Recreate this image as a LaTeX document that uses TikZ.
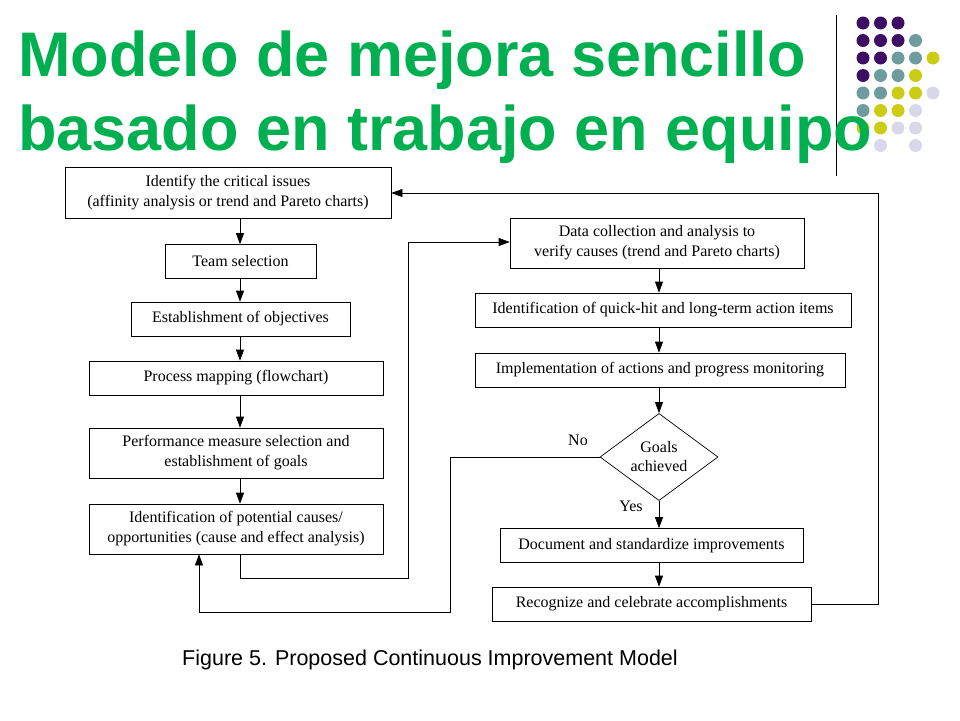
\documentclass[tikz,border=0pt]{standalone}
\usepackage{fontspec}
\setmainfont{Liberation Serif}
\newfontfamily\tsans{Liberation Sans}
\usetikzlibrary{shapes.geometric,arrows.meta}
\definecolor{ttl}{HTML}{00B050}
\definecolor{dP}{HTML}{3D0E63}
\definecolor{dT}{HTML}{6E9C9E}
\definecolor{dY}{HTML}{CCCC14}
\definecolor{dL}{HTML}{D8D8EA}
\begin{document}
\begin{tikzpicture}[x=1pt,y=-1pt,
 bx/.style={draw,line width=0.7pt,minimum height=34pt,align=center,font=\fontsize{16}{20}\selectfont,inner sep=0pt},
 ar/.style={line width=0.7pt,-{Triangle[length=11pt,width=8pt]}},
 ln/.style={line width=0.7pt}]
\useasboundingbox (0,0) rectangle (960,720);
\foreach \r/\row in {0/{P,P,P,N,N},1/{P,P,P,T,N},2/{P,P,T,T,Y},3/{P,T,T,Y,N},4/{T,T,Y,Y,L},5/{T,Y,Y,L,N},6/{Y,Y,L,L,N},7/{N,L,N,L,N}}{
 \foreach \c [count=\i from 0] in \row {
  \if\c N\else \fill[d\c] (863+\i*17.5,23+\r*17.5) circle (6.5);\fi }}
\draw[line width=0.8pt] (836,15) -- (836,176);
\node[anchor=base west,font=\tsans\bfseries\fontsize{63}{66}\selectfont,text=ttl,inner sep=0] (t1) at (18,76) {Modelo de mejora sencillo};
\node[anchor=base west,font=\tsans\bfseries\fontsize{63}{66}\selectfont,text=ttl,inner sep=0] (t2) at (18,150) {basado en trabajo en equipo};
\node[bx,minimum width=326pt,minimum height=51pt] (b1) at (228,193) {Identify the critical issues\\(affinity analysis or trend and Pareto charts)};
\node[bx,minimum width=151pt] (b2) at (240.5,261.5) {Team selection};
\node[bx,minimum width=219pt] (b3) at (240.5,319) {Establishment of objectives};
\node[bx,minimum width=294pt] (b4) at (236,378) {Process mapping (flowchart)};
\node[bx,minimum width=294pt,minimum height=50pt] (b5) at (236,453) {Performance measure selection and\\establishment of goals};
\node[bx,minimum width=294pt,minimum height=50pt] (b6) at (236,529) {Identification of potential causes/\\opportunities (cause and effect analysis)};
\node[bx,minimum width=294pt,minimum height=50pt] (b7) at (657,243) {Data collection and analysis to\\verify causes\ (trend and Pareto charts)};
\node[bx,minimum width=376pt] (b8) at (663,310) {Identification of quick-hit and long-term action items};
\node[bx,minimum width=370pt] (b9) at (660,370) {Implementation of actions and progress monitoring};
\node[draw,line width=0.7pt,diamond,minimum width=118pt,minimum height=72pt,inner sep=0pt,align=center,font=\fontsize{16}{19}\selectfont] (d) at (659,457) {Goals\\achieved};
\node[bx,minimum width=303pt] (b10) at (651.5,545.5) {Document and standardize improvements};
\node[bx,minimum width=319pt] (b11) at (651.5,604) {Recognize and celebrate accomplishments};
\foreach \a/\b in {b1/b2,b2/b3,b3/b4,b4/b5,b5/b6} \draw[ar] (240,0 |- \a.south) -- (240,0 |- \b.north);
\foreach \a/\b in {b8/b9,d/b10,b10/b11} \draw[ar] (659,0 |- \a.south) -- (659,0 |- \b.north);
\draw[ar] (659,0 |- b7.south) -- (659,0 |- b8.north);
\draw[ar] (659,0 |- b9.south) -- (d.north);
\coordinate (c1) at (240,578);
\draw[ar] (240,0 |- b6.south) -- (c1) -- (408,578) -- (408,242) -- (b7.west |- 0,242);
\draw[ar] (d.west) -- (450,0 |- d.west) -- (450,612) -- (199,612) -- (199,0 |- b6.south);
\draw[ar] (b11.east) -- (878,604) -- (878,193) -- (b1.east);
\node[font=\fontsize{16}{18}\selectfont] (no) at (578,440) {No};
\node[font=\fontsize{16}{18}\selectfont] (yes) at (631,506) {Yes};
\node[font=\tsans\fontsize{21.5}{24}\selectfont] (cap) at (430,660) {Figure 5. Proposed Continuous Improvement Model};
\end{tikzpicture}
\end{document}
